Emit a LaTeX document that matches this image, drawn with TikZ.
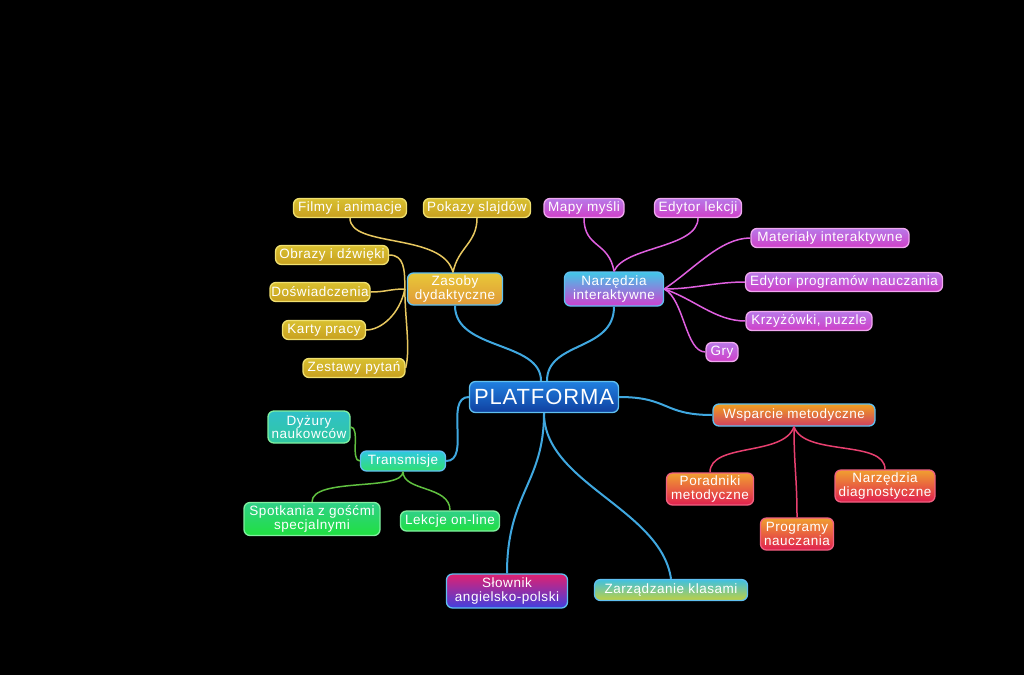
\documentclass[tikz,border=0pt]{standalone}
\usepackage{fontspec}
\setmainfont{Liberation Sans}[LetterSpace=4]
\begin{document}
\begin{tikzpicture}[x=1pt,y=-1pt,
  box/.style={rounded corners=6pt, line width=1.3pt, text=white, align=center, inner sep=1pt, font=\fontsize{13.5}{13.5}\selectfont},
  yel/.style={box, top color=yfillA, bottom color=yfillB, draw=yborder},
  pur/.style={box, top color=pfillA, bottom color=pfillB, draw=pborder},
  org/.style={box, top color=ofillA, bottom color=ofillB, draw=oborder},
  grn/.style={box, top color=gfillA, bottom color=gfillB, draw=gborder},
  hub/.style={box, draw=hubborder, font=\fontsize{13.5}{13.5}\selectfont},
  mainline/.style={draw=mainblue, line width=2pt},
  yline/.style={draw=ylinec, line width=1.5pt},
  pline/.style={draw=plinec, line width=1.5pt},
  rline/.style={draw=rlinec, line width=1.5pt},
  gline/.style={draw=glinec, line width=1.5pt}
]
\definecolor{yfillA}{HTML}{D8C030}\definecolor{yfillB}{HTML}{C8A020}\definecolor{yborder}{HTML}{F0E070}
\definecolor{pfillA}{HTML}{B878E8}\definecolor{pfillB}{HTML}{D040C8}\definecolor{pborder}{HTML}{F0A8F0}
\definecolor{ofillA}{HTML}{F0A030}\definecolor{ofillB}{HTML}{E02050}\definecolor{oborder}{HTML}{F06080}
\definecolor{gfillA}{HTML}{30D088}\definecolor{gfillB}{HTML}{20E040}\definecolor{gborder}{HTML}{80F0A0}
\definecolor{hubborder}{HTML}{60C0F0}
\definecolor{mainblue}{HTML}{40A8E0}
\definecolor{ylinec}{HTML}{E8C860}
\definecolor{plinec}{HTML}{E060E0}
\definecolor{rlinec}{HTML}{E84070}
\definecolor{glinec}{HTML}{60C040}
\definecolor{zasA}{HTML}{E8C838}\definecolor{zasB}{HTML}{E09838}
\definecolor{narA}{HTML}{40C8E8}\definecolor{narB}{HTML}{D040D0}
\definecolor{plaA}{HTML}{2080E0}\definecolor{plaB}{HTML}{1040A0}
\definecolor{wspA}{HTML}{F0A020}\definecolor{wspB}{HTML}{D04060}
\definecolor{traA}{HTML}{30C8E0}\definecolor{traB}{HTML}{30E070}
\definecolor{dyzA}{HTML}{30C0C8}\definecolor{dyzB}{HTML}{30C8A0}
\definecolor{sloA}{HTML}{E02070}\definecolor{sloB}{HTML}{4040E0}
\definecolor{zarA}{HTML}{40C0E0}\definecolor{zarB}{HTML}{C0D040}

\fill[black] (0,0) rectangle (1024,675);
\useasboundingbox (0,0) rectangle (1024,675);

% hubs
\node[hub, top color=plaA, bottom color=plaB, minimum width=149pt, minimum height=31pt, font=\fontsize{22}{22}\selectfont] (pla) at (544,397) {PLATFORMA};
\node[hub, top color=zasA, bottom color=zasB, minimum width=95pt, minimum height=32pt] (zas) at (455,289) {Zasoby\\dydaktyczne};
\node[hub, top color=narA, bottom color=narB, minimum width=99pt, minimum height=34pt] (nar) at (614,289) {Narzędzia\\interaktywne};
\node[hub, top color=wspA, bottom color=wspB, minimum width=162pt, minimum height=22pt] (wsp) at (794,415) {Wsparcie metodyczne};
\node[hub, top color=traA, bottom color=traB, minimum width=85pt, minimum height=20pt] (tra) at (403,461) {Transmisje};
\node[hub, top color=sloA, bottom color=sloB, minimum width=121pt, minimum height=34pt] (slo) at (507,591) {Słownik\\angielsko-polski};
\node[hub, top color=zarA, bottom color=zarB, minimum width=153pt, minimum height=21pt] (zar) at (671,590) {Zarządzanie klasami};

% yellow leaves
\node[yel, minimum width=113pt, minimum height=19pt] (fil) at (350,208) {Filmy i animacje};
\node[yel, minimum width=107pt, minimum height=19pt] (pok) at (477,208) {Pokazy slajdów};
\node[yel, minimum width=113pt, minimum height=19pt] (obr) at (332,255) {Obrazy i dźwięki};
\node[yel, minimum width=100pt, minimum height=19pt] (dos) at (320,292) {Doświadczenia};
\node[yel, minimum width=83pt, minimum height=19pt] (kar) at (324,330) {Karty pracy};
\node[yel, minimum width=102pt, minimum height=19pt] (zes) at (354,368) {Zestawy pytań};

% purple leaves
\node[pur, minimum width=80pt, minimum height=19pt] (map) at (584,208) {Mapy myśli};
\node[pur, minimum width=87pt, minimum height=19pt] (edl) at (698,208) {Edytor lekcji};
\node[pur, minimum width=158pt, minimum height=19pt] (mat) at (830,238) {Materiały interaktywne};
\node[pur, minimum width=197pt, minimum height=19pt] (edp) at (844,282) {Edytor programów nauczania};
\node[pur, minimum width=126pt, minimum height=19pt] (krz) at (809,321) {Krzyżówki, puzzle};
\node[pur, minimum width=32pt, minimum height=19pt] (gry) at (722,352) {Gry};

% orange leaves
\node[org, minimum width=87pt, minimum height=32pt] (por) at (710,489) {Poradniki\\metodyczne};
\node[org, minimum width=73pt, minimum height=32pt] (pro) at (797,534) {Programy\\nauczania};
\node[org, minimum width=100pt, minimum height=32pt] (ndi) at (885,486) {Narzędzia\\diagnostyczne};

% green leaves
\node[box, top color=dyzA, bottom color=dyzB, draw=gborder, minimum width=82pt, minimum height=32pt] (dyz) at (309,427) {Dyżury\\naukowców};
\node[grn, minimum width=136pt, minimum height=33pt] (spo) at (312,519) {Spotkania z gośćmi\\specjalnymi};
\node[grn, minimum width=99pt, minimum height=20pt] (lek) at (450,521) {Lekcje on-line};

% main connectors
\draw[mainline] (zas.south) .. controls +(0,45) and +(0,-40) .. ([xshift=-3pt]pla.north);
\draw[mainline] (nar.south) .. controls +(0,45) and +(0,-40) .. ([xshift=3pt]pla.north);
\draw[mainline] (pla.west) .. controls +(-25,0) and +(25,0) .. (tra.east);
\draw[mainline] (pla.east) .. controls +(50,0) and +(-50,0) .. (wsp.west);
\draw[mainline] (pla.south) .. controls +(0,70) and +(0,-80) .. (slo.north);
\draw[mainline] (pla.south) .. controls +(0,70) and +(-10,-70) .. (zar.north);

% zasoby children
\draw[yline] (fil.south) .. controls +(0,30) and +(-10,-40) .. ([xshift=-2pt]zas.north);
\draw[yline] (pok.south) .. controls +(0,25) and +(5,-25) .. ([xshift=-2pt]zas.north);
\draw[yline] (obr.east) .. controls +(15,0) and +(0,-20) .. ([xshift=-2pt]zas.west);
\draw[yline] (dos.east) .. controls +(15,0) and +(-15,0) .. ([xshift=-2pt]zas.west);
\draw[yline] (kar.east) .. controls +(15,0) and +(-5,25) .. ([xshift=-2pt]zas.west);
\draw[yline] (zes.east) .. controls +(5,-20) and +(0,30) .. ([xshift=-2pt]zas.west);

% narzedzia children
\draw[pline] (map.south) .. controls +(0,30) and +(-5,-30) .. (nar.north);
\draw[pline] (edl.south) .. controls +(0,30) and +(10,-25) .. (nar.north);
\draw[pline] (mat.west) .. controls +(-30,0) and +(30,-20) .. (nar.east);
\draw[pline] (edp.west) .. controls +(-30,0) and +(30,0) .. (nar.east);
\draw[pline] (krz.west) .. controls +(-30,0) and +(30,10) .. (nar.east);
\draw[pline] (gry.west) .. controls +(-20,0) and +(20,10) .. (nar.east);

% wsparcie children
\draw[rline] (wsp.south) .. controls +(-10,30) and +(0,-30) .. (por.north);
\draw[rline] (wsp.south) .. controls +(0,40) and +(0,-40) .. (pro.north);
\draw[rline] (wsp.south) .. controls +(10,30) and +(0,-30) .. (ndi.north);

% transmisje children
\draw[gline] (dyz.east) .. controls +(10,0) and +(-10,0) .. (tra.west);
\draw[gline] (spo.north) .. controls +(0,-25) and +(0,20) .. (tra.south);
\draw[gline] (lek.north) .. controls +(0,-25) and +(0,20) .. (tra.south);
\end{tikzpicture}
\end{document}
